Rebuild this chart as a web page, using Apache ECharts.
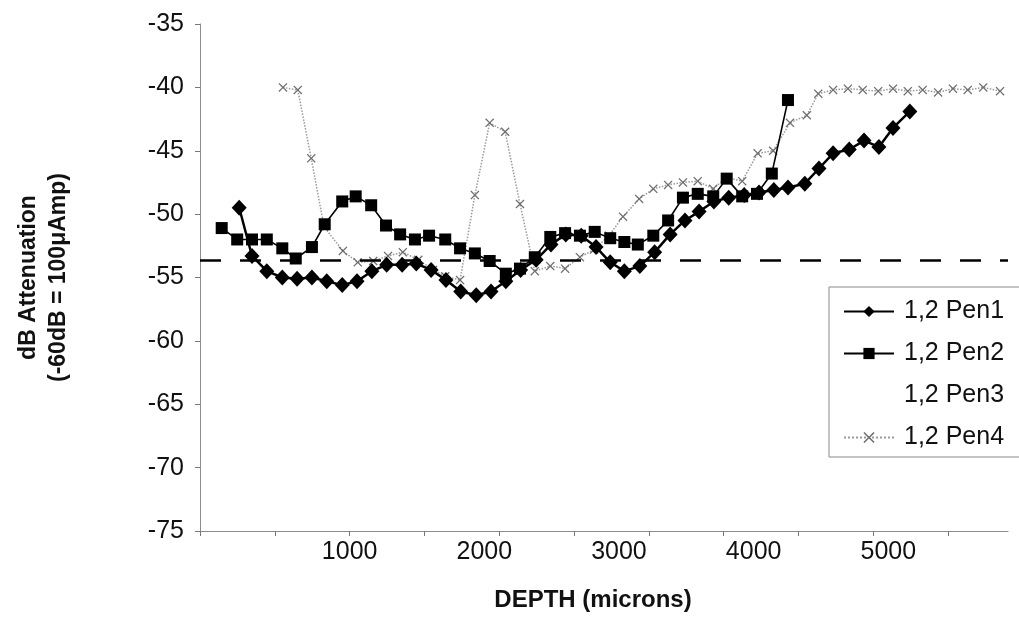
<!DOCTYPE html>
<html>
<head>
<meta charset="utf-8">
<script src="https://cdn.jsdelivr.net/npm/echarts@6/dist/echarts.min.js"></script>
<style>
  html, body { margin: 0; padding: 0; background: #fff; }
  #chart { width: 1019px; height: 639px; }
</style>
</head>
<body>
<div id="chart"></div>
<script>
// Attenuation profiles versus electrode depth
const pen1Depth = [180, 275, 385, 500, 610, 720, 830, 945, 1055, 1165, 1275, 1390, 1495, 1605, 1715, 1825, 1940, 2050, 2160, 2270, 2385, 2495, 2605, 2720, 2830, 2935, 3040, 3155, 3265, 3380, 3490, 3595, 3705, 3815, 3930, 4040, 4150, 4255, 4380, 4485, 4590, 4710, 4820, 4930, 5035, 5160];
const pen1Values = [-49.5, -53.3, -54.5, -55.0, -55.1, -55.0, -55.3, -55.6, -55.3, -54.5, -54.0, -54.0, -53.9, -54.4, -55.2, -56.1, -56.4, -56.1, -55.3, -54.4, -53.6, -52.4, -51.6, -51.7, -52.6, -53.8, -54.5, -54.1, -53.0, -51.6, -50.5, -49.8, -49.0, -48.7, -48.5, -48.3, -48.1, -47.9, -47.6, -46.4, -45.2, -44.9, -44.2, -44.7, -43.2, -41.9];

const pen2Depth = [50, 165, 275, 385, 500, 600, 720, 815, 945, 1045, 1160, 1270, 1375, 1485, 1590, 1710, 1820, 1930, 2040, 2160, 2265, 2375, 2490, 2600, 2710, 2820, 2935, 3040, 3140, 3255, 3365, 3475, 3585, 3700, 3800, 3915, 4025, 4135, 4255];
const pen2Values = [-51.1, -52.0, -52.0, -52.0, -52.7, -53.5, -52.6, -50.8, -49.0, -48.6, -49.3, -50.9, -51.6, -52.0, -51.7, -52.0, -52.7, -53.1, -53.7, -54.7, -54.3, -53.4, -51.8, -51.5, -51.7, -51.4, -51.9, -52.2, -52.4, -51.7, -50.5, -48.7, -48.4, -48.6, -47.2, -48.6, -48.4, -46.8, -41.0];

// Pen3 has no plotted readings
const pen3Depth = [];
const pen3Values = [];

const pen4Depth = [505, 615, 715, 810, 950, 1060, 1175, 1285, 1395, 1510, 1620, 1710, 1820, 1930, 2040, 2155, 2265, 2375, 2490, 2600, 2710, 2815, 2925, 3030, 3150, 3255, 3365, 3475, 3585, 3700, 3800, 3915, 4030, 4145, 4270, 4395, 4480, 4590, 4700, 4810, 4925, 5035, 5145, 5255, 5370, 5480, 5590, 5705, 5830];
const pen4Values = [-40.0, -40.2, -45.6, -51.0, -52.9, -53.8, -53.7, -53.3, -53.0, -53.6, -54.4, -54.9, -55.2, -48.5, -42.8, -43.5, -49.2, -54.5, -54.1, -54.3, -53.4, -52.8, -51.7, -50.2, -48.8, -48.0, -47.7, -47.5, -47.4, -48.0, -47.1, -47.4, -45.2, -45.0, -42.8, -42.2, -40.5, -40.2, -40.1, -40.2, -40.3, -40.1, -40.3, -40.2, -40.4, -40.1, -40.2, -40.0, -40.3];

// Baseline attenuation level
const baselineLevel = -53.6;

// Axis labels and tick positions
const xLabelValues = [1000, 2000, 3000, 4000, 5000];
const xTickValues = [-111.1, 444.4, 1000, 1555.6, 2111.1, 2666.7, 3222.2, 3777.8, 4333.3, 4888.9, 5444.4];
const seriesNames = ['1,2 Pen1', '1,2 Pen2', '1,2 Pen3', '1,2 Pen4'];

const zip = (xs, ys) => xs.map((x, i) => [x, ys[i]]);
const crossPath = 'path://M0,1 L1,0 L5,4 L9,0 L10,1 L6,5 L10,9 L9,10 L5,6 L1,10 L0,9 L4,5 Z';
const FONT = 'Liberation Sans, Arial, sans-serif';

const chart = echarts.init(document.getElementById('chart'), null, { renderer: 'canvas' });
chart.setOption({
  animation: false,
  backgroundColor: '#fff',
  textStyle: { fontFamily: FONT },
  grid: { left: 200, right: 11, top: 24, bottom: 108, containLabel: false, outerBoundsMode: 'none' },
  legend: {
    orient: 'vertical',
    left: 829,
    top: 287,
    data: seriesNames,
    itemWidth: 50,
    itemHeight: 14,
    itemGap: 17,
    padding: [12, 40, 7, 14],
    borderColor: '#8a8a8a',
    borderWidth: 1,
    textStyle: { fontSize: 25, color: '#111', fontFamily: FONT, padding: [0, 0, 0, 5] }
  },
  xAxis: {
    type: 'value',
    min: -111.1,
    max: 5888.9,
    name: 'DEPTH (microns)',
    nameLocation: 'middle',
    nameGap: 57,
    nameTextStyle: { fontSize: 24, fontWeight: 'bold', color: '#111', fontFamily: FONT, padding: [0, 22, 0, 0] },
    axisLine: { show: true, onZero: false, lineStyle: { color: '#8c8c8c', width: 1 } },
    axisTick: { show: true, inside: false, length: 5, customValues: xTickValues, lineStyle: { color: '#777' } },
    axisLabel: { customValues: xLabelValues, fontSize: 25, color: '#111', margin: 9, fontFamily: FONT, formatter: (v) => String(v) },
    splitLine: { show: false }
  },
  yAxis: {
    type: 'value',
    min: -75,
    max: -35,
    interval: 5,
    name: 'dB Attenuation\n(-60dB = 100\u03bcAmp)',
    nameLocation: 'middle',
    nameGap: 126,
    nameRotate: 90,
    nameTextStyle: { fontSize: 23, fontWeight: 'bold', color: '#111', lineHeight: 30, fontFamily: FONT },
    axisLine: { show: true, onZero: false, lineStyle: { color: '#8c8c8c', width: 1 } },
    axisTick: { show: true, inside: false, length: 5, lineStyle: { color: '#777' } },
    axisLabel: { fontSize: 25, color: '#111', margin: 16, fontFamily: FONT, formatter: (v) => String(v) },
    splitLine: { show: false }
  },
  series: [
    {
      name: seriesNames[0],
      type: 'line',
      data: zip(pen1Depth, pen1Values),
      symbol: 'diamond',
      symbolSize: [15, 16],
      itemStyle: { color: '#000' },
      lineStyle: { color: '#000', width: 2.5 },
      z: 4,
      markLine: {
        silent: true,
        symbol: 'none',
        label: { show: false },
        lineStyle: { color: '#000', width: 2.5, type: [21, 19] },
        data: [{ yAxis: baselineLevel }]
      }
    },
    {
      name: seriesNames[1],
      type: 'line',
      data: zip(pen2Depth, pen2Values),
      symbol: 'rect',
      symbolSize: 12,
      itemStyle: { color: '#000' },
      lineStyle: { color: '#000', width: 1.6 },
      z: 3
    },
    {
      name: seriesNames[2],
      type: 'line',
      data: zip(pen3Depth, pen3Values),
      symbol: 'none',
      itemStyle: { color: 'rgba(255,255,255,0)' },
      lineStyle: { color: 'rgba(255,255,255,0)', width: 1 },
      z: 1
    },
    {
      name: seriesNames[3],
      type: 'line',
      data: zip(pen4Depth, pen4Values),
      symbol: crossPath,
      symbolSize: 9,
      itemStyle: { color: '#6f6f6f' },
      lineStyle: { color: '#9a9a9a', width: 1.5, type: 'dotted' },
      z: 2
    }
  ]
});
</script>
</body>
</html>
